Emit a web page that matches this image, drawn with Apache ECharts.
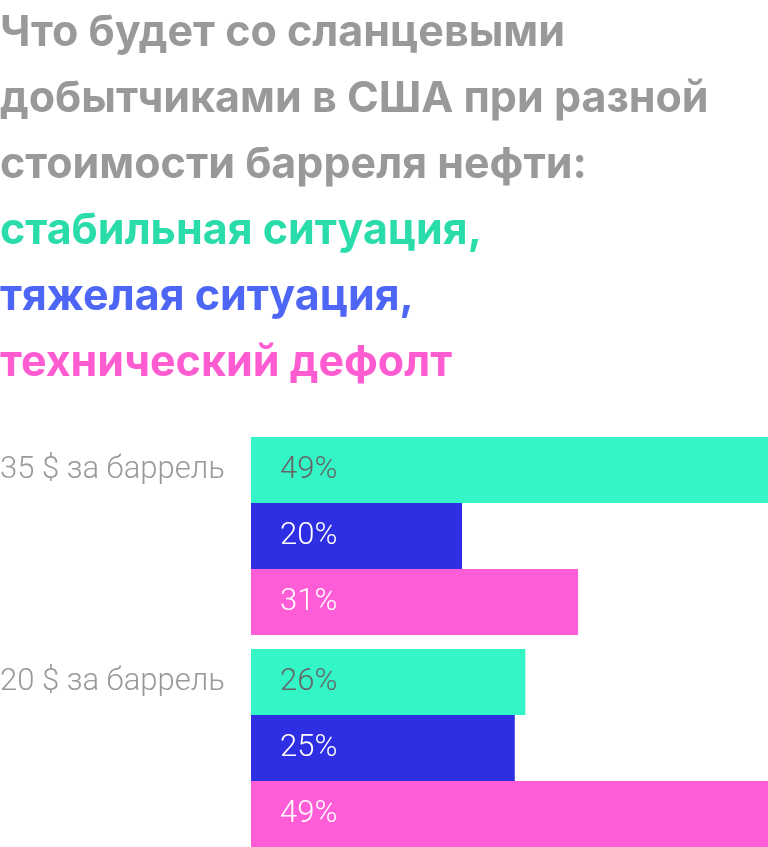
<!DOCTYPE html>
<html>
<head>
<meta charset="utf-8">
<script src="https://cdn.jsdelivr.net/npm/echarts@6/dist/echarts.min.js"></script>
<style>
  html, body { margin: 0; padding: 0; background: #fff; }
  #chart { width: 768px; height: 847px; }
</style>
</head>
<body>
<div id="chart"></div>
<script>
const prices = ['35 $ за баррель', '20 $ за баррель'];
const stable = [49, 26];
const hard = [20, 25];
const defaulted = [31, 49];

const titleLines = [
  'Что будет со сланцевыми',
  'добытчиками в США при разной',
  'стоимости барреля нефти:'
];
const legendLines = ['стабильная ситуация,', 'тяжелая ситуация,', 'технический дефолт'];

const chart = echarts.init(document.getElementById('chart'));

const labelFor = (color) => ({
  show: true,
  position: 'insideLeft',
  distance: 29,
  formatter: '{c}%',
  fontFamily: 'Roboto',
  fontWeight: 300,
  fontSize: 31,
  color: color
});

const titleFont = { fontFamily: 'Inter', fontWeight: 'bold', fontSize: 43, lineHeight: 66 };

chart.setOption({
  animation: false,
  title: {
    left: 0,
    top: 0,
    padding: 0,
    text: titleLines.join('\n') + '\n{g|' + legendLines[0] + '}\n{b|' + legendLines[1] + '}\n{p|' + legendLines[2] + '}',
    textStyle: Object.assign({
      color: '#999999',
      rich: {
        g: Object.assign({ color: '#2bdcab' }, titleFont),
        b: Object.assign({ color: '#4d66f5' }, titleFont),
        p: Object.assign({ color: '#ff5cd2' }, titleFont)
      }
    }, titleFont)
  },
  grid: { left: 251, right: 0, top: 430, height: 424, outerBoundsMode: 'none' },
  xAxis: { type: 'value', min: 0, max: 49, show: false },
  yAxis: {
    type: 'category',
    inverse: true,
    data: prices,
    axisLine: { show: false },
    axisTick: { show: false },
    splitLine: { show: false },
    axisLabel: {
      align: 'left',
      margin: 251,
      formatter: (v) => v + '\n\n',
      lineHeight: 66,
      fontFamily: 'Roboto',
      fontWeight: 300,
      fontSize: 31,
      color: '#999999'
    }
  },
  series: [
    { type: 'bar', data: stable, barWidth: 66, barGap: '0%', itemStyle: { color: '#33f5c6' }, label: labelFor('#666666') },
    { type: 'bar', data: hard, barWidth: 66, barGap: '0%', itemStyle: { color: '#2e2ee2' }, label: labelFor('#ffffff') },
    { type: 'bar', data: defaulted, barWidth: 66, barGap: '0%', itemStyle: { color: '#ff5cd8' }, label: labelFor('#ffffff') }
  ]
});
</script>
</body>
</html>
